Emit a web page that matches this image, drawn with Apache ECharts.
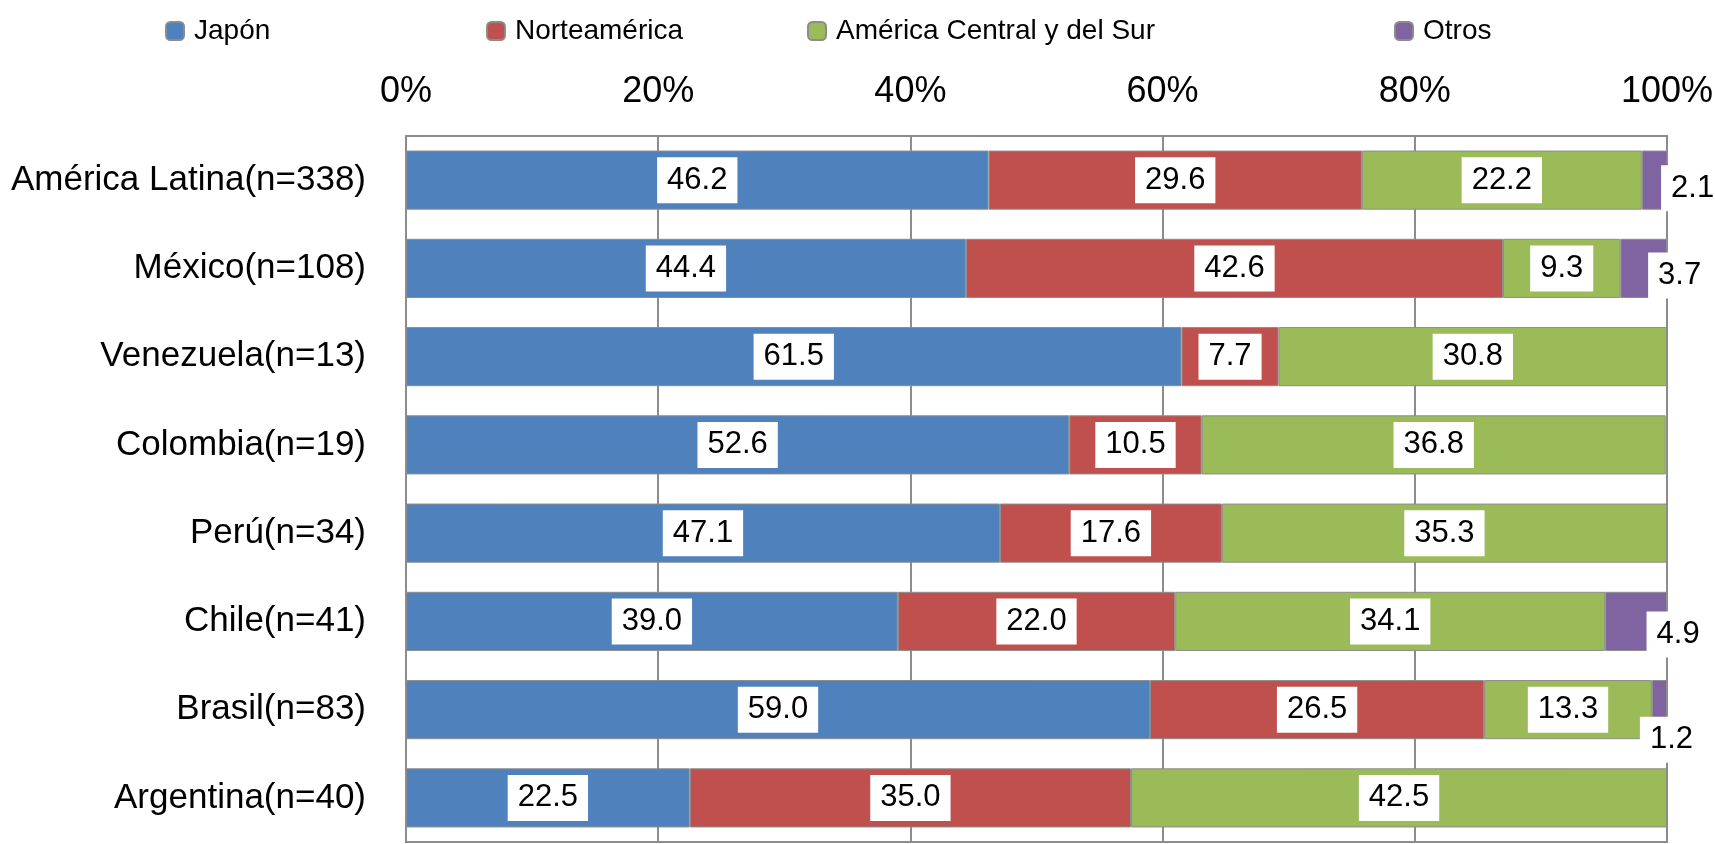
<!DOCTYPE html>
<html>
<head>
<meta charset="utf-8">
<script src="https://cdn.jsdelivr.net/npm/echarts@6/dist/echarts.min.js"></script>
<style>
html,body{margin:0;padding:0;background:#fff;}
#chart{width:1715px;height:844px;}
</style>
</head>
<body>
<div id="chart"></div>
<script>
const categories = ['América Latina(n=338)','México(n=108)','Venezuela(n=13)','Colombia(n=19)','Perú(n=34)','Chile(n=41)','Brasil(n=83)','Argentina(n=40)'];
const seriesNames = ['Japón','Norteamérica','América Central y del Sur','Otros'];
const japon = [46.2,44.4,61.5,52.6,47.1,39.0,59.0,22.5];
const norteamerica = [29.6,42.6,7.7,10.5,17.6,22.0,26.5,35.0];
const centralSur = [22.2,9.3,30.8,36.8,35.3,34.1,13.3,42.5];
const otros = [2.1,3.7,null,null,null,4.9,1.2,null];
const xMin = 0, xMax = 100, xInterval = 20;

const colors = ['#4F81BD','#C0504D','#9BBB59','#8064A2'];
const otrosLabelOffsets = [[38,8],[36,7],null,null,null,[42,13],[12,30],null];
const legendLefts = [160,481,802,1389];
const FONT = '"Liberation Sans", Arial, sans-serif';

const chart = echarts.init(document.getElementById('chart'));

function mkLabel() {
  return {
    show: true,
    position: 'inside',
    color: '#000',
    fontSize: 31,
    fontFamily: FONT,
    lineHeight: 31,
    backgroundColor: '#fff',
    padding: [8, 10, 7, 10],
    formatter: p => (p.value == null ? '' : Number(p.value).toFixed(1))
  };
}

const allData = [japon, norteamerica, centralSur, otros];
const series = allData.map((arr, si) => ({
  name: seriesNames[si],
  type: 'bar',
  stack: 'total',
  barCategoryGap: '33%',
  itemStyle: { color: colors[si], borderColor: '#8c8c8c', borderWidth: 1 },
  label: mkLabel(),
  emphasis: { disabled: true },
  data: arr.map((v, i) => {
    if (si === 3 && otrosLabelOffsets[i]) {
      return { value: v, label: { offset: otrosLabelOffsets[i] } };
    }
    return v;
  })
}));

const legends = seriesNames.map((n, i) => ({
  data: [n],
  left: legendLefts[i],
  top: 12,
  itemWidth: 18,
  itemHeight: 18,
  itemGap: 0,
  textStyle: { fontSize: 28, color: '#000', fontFamily: FONT, padding: [0,0,0,5] },
  selectedMode: false
}));

chart.setOption({
  animation: false,
  backgroundColor: '#fff',
  color: colors,
  legend: legends,
  grid: { left: 406, right: 48, top: 136, bottom: 2, outerBoundsMode: 'none', containLabel: false, show: true, borderColor: '#8c8c8c', borderWidth: 2 },
  xAxis: {
    type: 'value',
    position: 'top',
    min: xMin, max: xMax, interval: xInterval,
    axisLabel: { formatter: '{value}%', fontSize: 36, color: '#000', fontFamily: FONT, margin: 26 },
    axisLine: { show: true, lineStyle: { color: '#8c8c8c', width: 2 } },
    axisTick: { show: false },
    splitLine: { show: true, lineStyle: { color: '#8c8c8c', width: 2 } }
  },
  yAxis: {
    type: 'category',
    inverse: true,
    data: categories,
    axisLabel: { fontSize: 35, color: '#000', fontFamily: FONT, margin: 40 },
    axisLine: { show: true, lineStyle: { color: '#8c8c8c', width: 2 } },
    axisTick: { show: false },
    splitLine: { show: false }
  },
  series: series
});
</script>
</body>
</html>
